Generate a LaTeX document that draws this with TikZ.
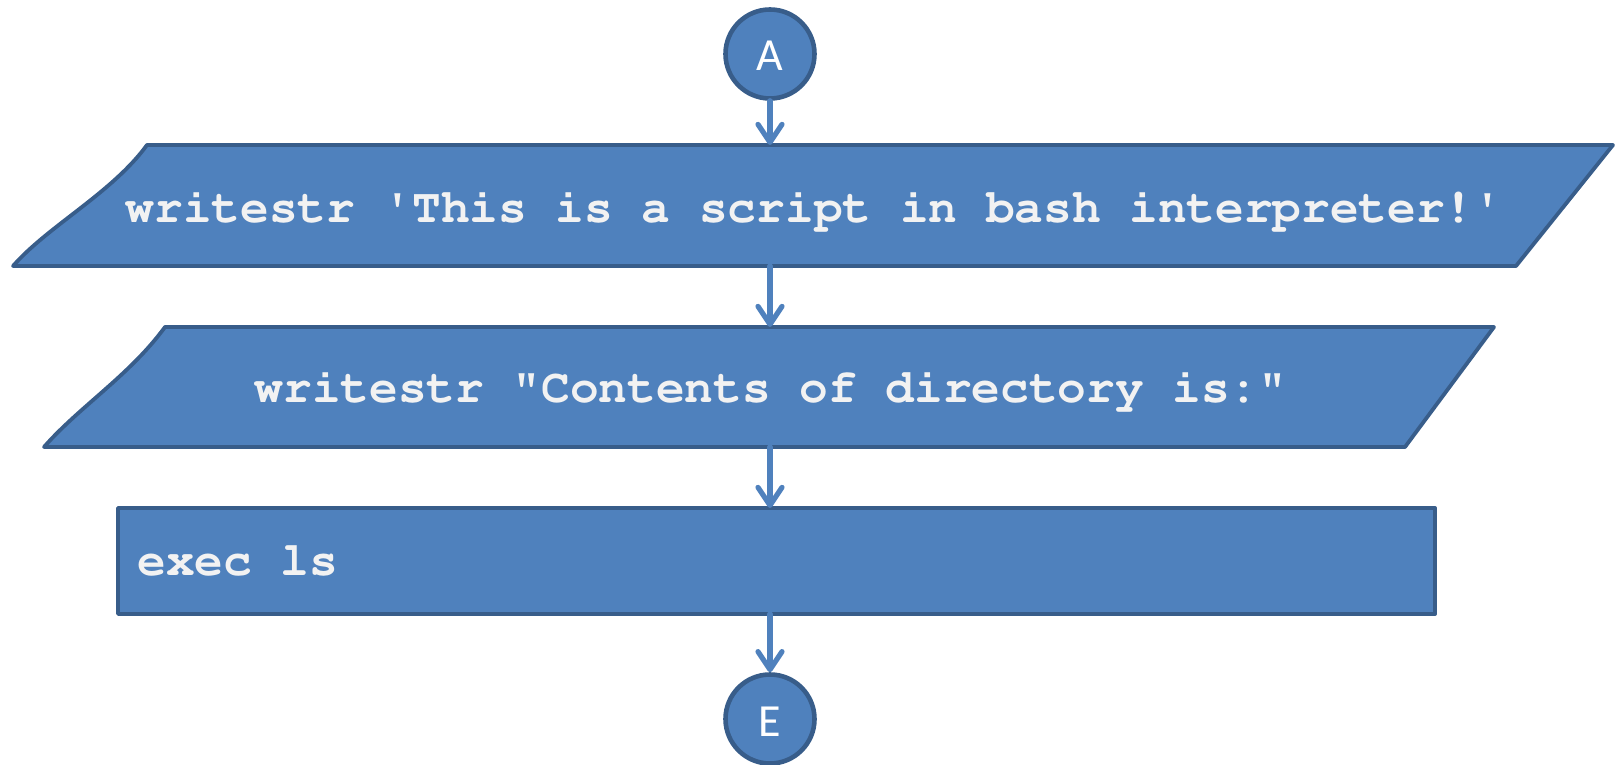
\documentclass[tikz,border=0pt]{standalone}
\usepackage[T1]{fontenc}
\usepackage{fontspec}
\setsansfont{Carlito}
\usepackage{xcolor}
\usepackage{tikz}
\usetikzlibrary{positioning,arrows.meta}
\definecolor{boxfill}{RGB}{79,129,189}
\definecolor{boxline}{RGB}{56,93,138}
\definecolor{boxtext}{RGB}{242,242,242}
\newcommand{\codefont}{\fontencoding{T1}\fontfamily{pcr}\fontseries{b}\selectfont}
\tikzset{
    terminal/.style={circle, draw=boxline, fill=boxfill, line width=2.3pt, minimum size=44.5pt, inner sep=0pt, text height=17pt, text depth=0pt, text=white, font=\sffamily\fontsize{23}{27}\selectfont},
    io box/.style={draw=boxline, fill=boxfill, line width=1.9pt, line join=round},
    code text/.style={text=boxtext, font=\codefont\fontsize{23.9}{29}\selectfont, inner sep=0pt},
    flow/.style={draw=boxfill, line width=2.6pt, line cap=round, -{Straight Barb[length=9pt,width=12pt,round]}}
}

\begin{document}
\begin{tikzpicture}[x=0.5pt, y=-0.5pt]
    \useasboundingbox (0,0) rectangle (1617,765);

    \node[terminal] (A) at (770,54) {A};
    \node[terminal] (E) at (770,719) {E};

    \draw[io box] (147,145) -- (1613,145) -- (1516,266) -- (13,266) .. controls (48,226) and (112,193) .. cycle;
    \draw[io box] (165,327) -- (1494,327) -- (1405,447) -- (44,447) .. controls (79,407) and (130,375) .. cycle;
    \draw[io box] (118,508) rectangle (1435,614);

    \node[code text, anchor=base] (write1) at (814,222) {writestr \textquotesingle This is a script in bash interpreter!\textquotesingle};
    \node[code text, anchor=base] (write2) at (771,402) {writestr "Contents of directory is:"};
    \node[code text, anchor=base west] (exec) at (137,575) {exec ls};

    \coordinate (write1 top) at (770,145);
    \coordinate (write1 bot) at (770,266);
    \coordinate (write2 top) at (770,327);
    \coordinate (write2 bot) at (770,447);
    \coordinate (exec top) at (770,508);
    \coordinate (exec bot) at (770,614);

    \draw[flow] (A) -- (write1 top);
    \draw[flow] (write1 bot) -- (write2 top);
    \draw[flow] (write2 bot) -- (exec top);
    \draw[flow] (exec bot) -- (E);
\end{tikzpicture}
\end{document}
